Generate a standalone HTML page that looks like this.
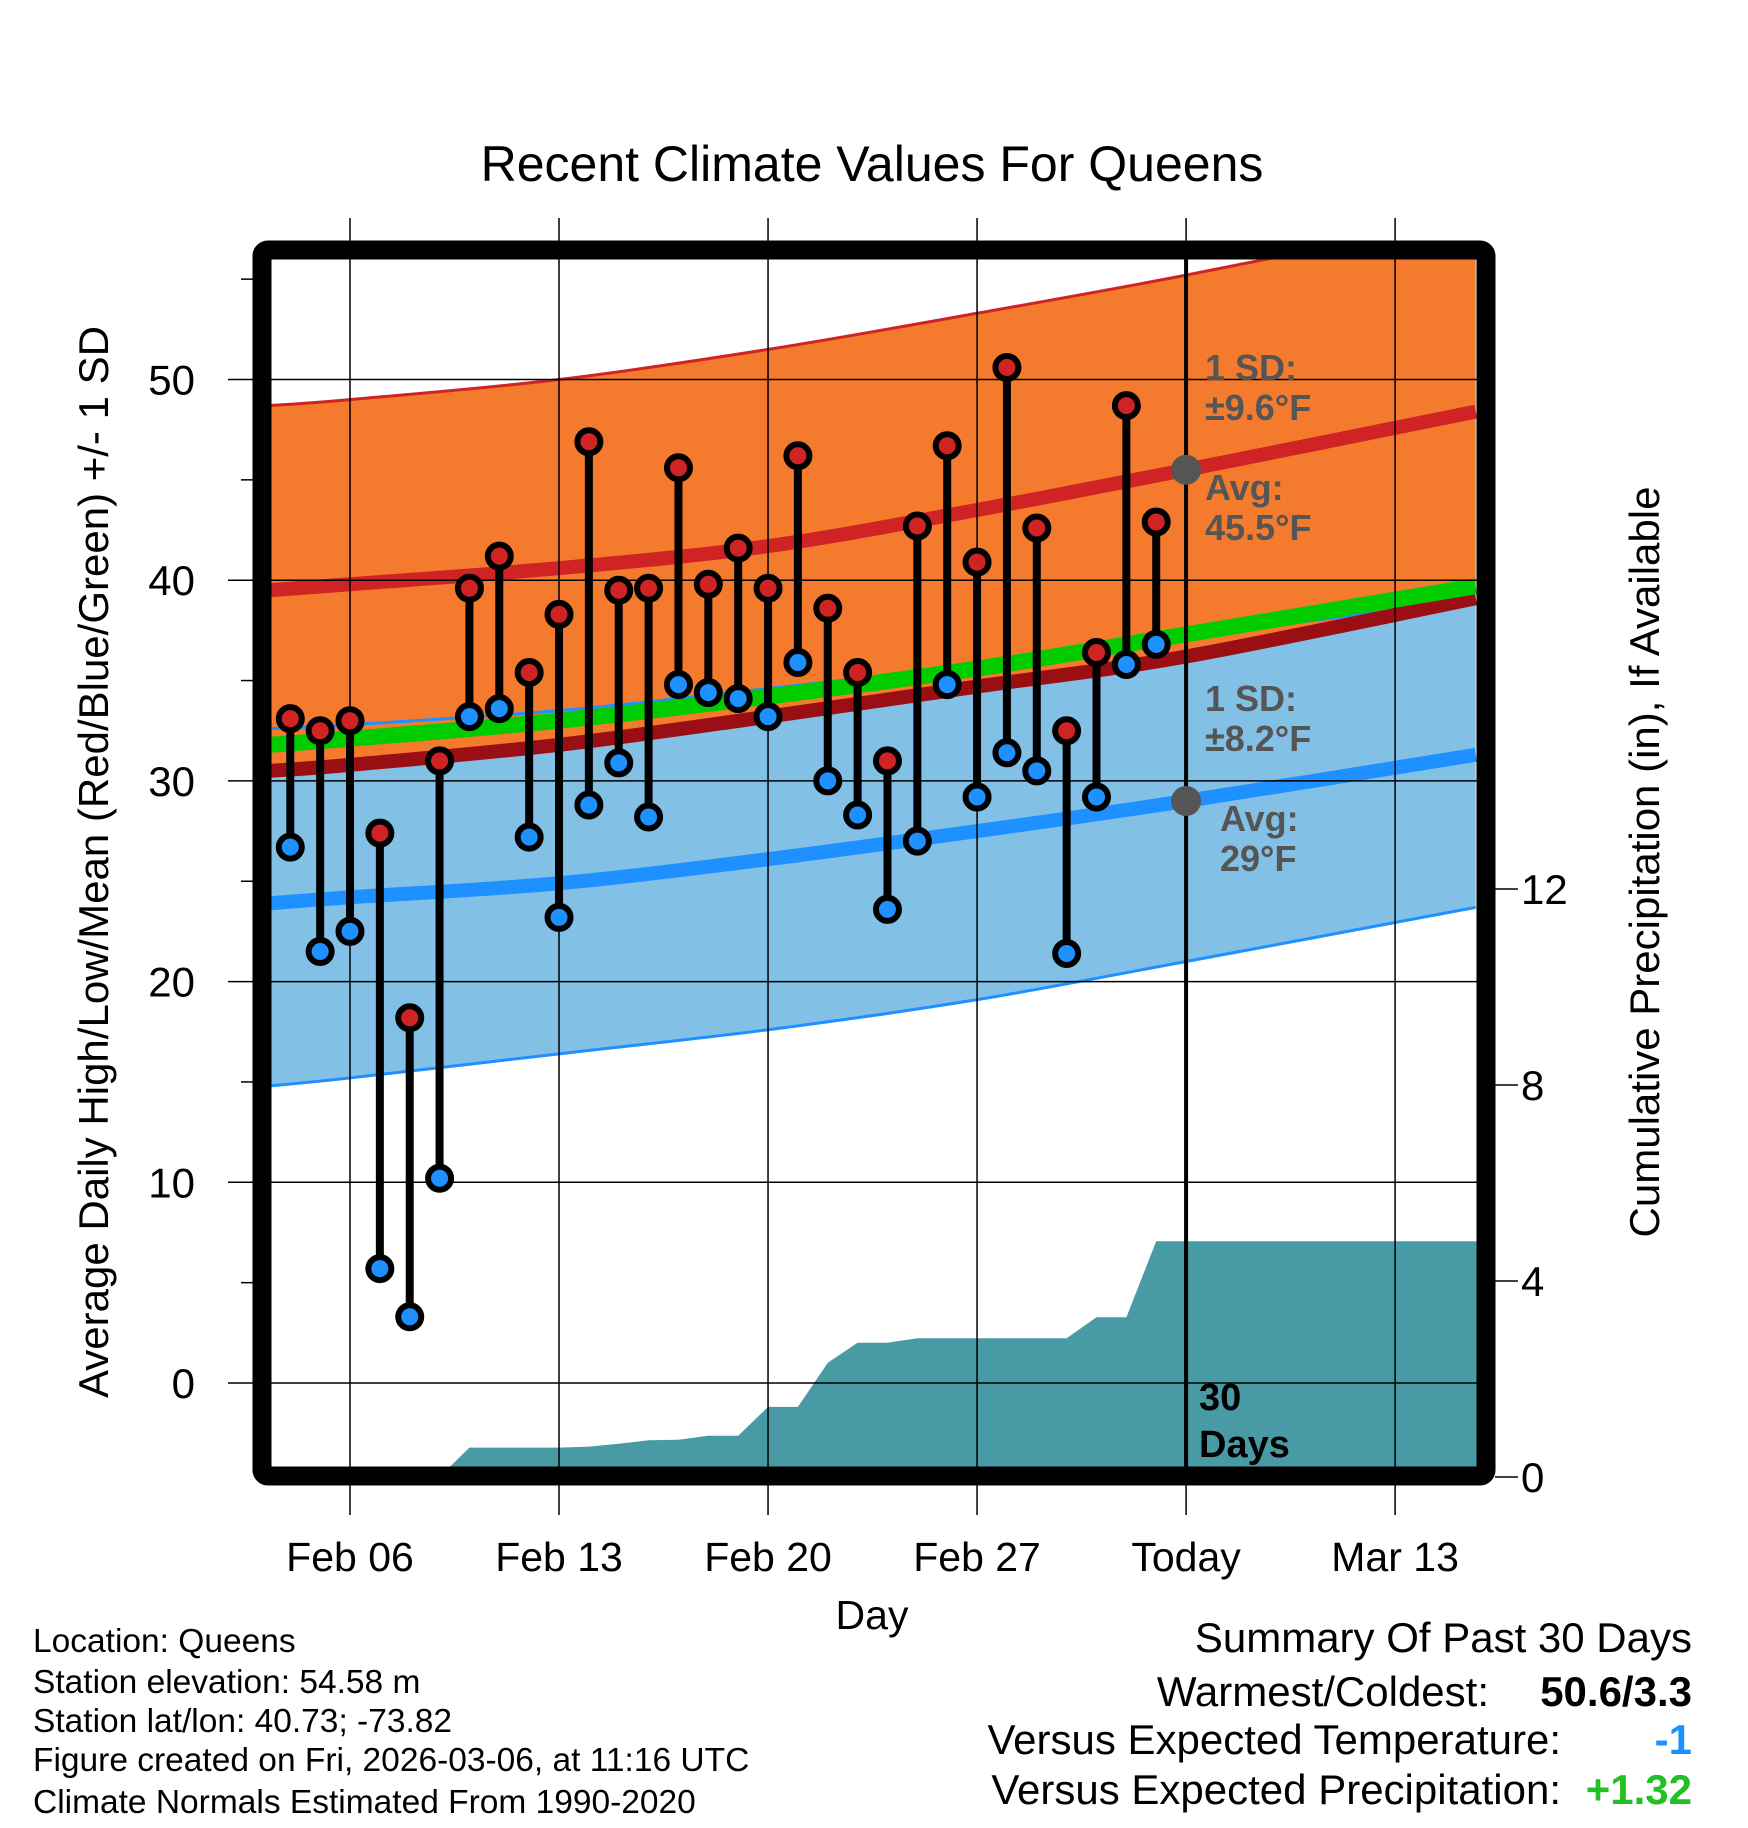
<!DOCTYPE html>
<html><head><meta charset="utf-8"><style>
html,body{margin:0;padding:0;background:#fff;}
svg{display:block;font-family:"Liberation Sans",sans-serif;}
</style></head><body>
<svg id="chart" width="1748" height="1828" viewBox="0 0 1748 1828" xmlns="http://www.w3.org/2000/svg">
<defs><clipPath id="plotclip"><rect x="269" y="259" width="1208" height="1208"/></clipPath></defs>
<g id="bands" clip-path="url(#plotclip)"></g>
<g id="grid"></g>
<g id="marks" clip-path="url(#plotclip)"></g>
<g id="axes"></g>
<text x="872" y="181" font-size="50" text-anchor="middle">Recent Climate Values For Queens</text>
<text transform="translate(108,862) rotate(-90)" font-size="42" text-anchor="middle">Average Daily High/Low/Mean (Red/Blue/Green) +/- 1 SD</text>
<text transform="translate(1659,862) rotate(-90)" font-size="42" text-anchor="middle">Cumulative Precipitation (in), If Available</text>
<text x="872" y="1629" font-size="41" text-anchor="middle">Day</text>
<g font-size="33.5">
<text x="33" y="1652">Location: Queens</text>
<text x="33" y="1693">Station elevation: 54.58 m</text>
<text x="33" y="1732">Station lat/lon: 40.73; -73.82</text>
<text x="33" y="1771">Figure created on Fri, 2026-03-06, at 11:16 UTC</text>
<text x="33" y="1813">Climate Normals Estimated From 1990-2020</text>
</g>
<g font-size="42" text-anchor="end">
<text x="1692" y="1652">Summary Of Past 30 Days</text>
<text x="1489" y="1706">Warmest/Coldest:</text>
<text x="1692" y="1706" font-weight="bold">50.6/3.3</text>
<text x="1561" y="1754">Versus Expected Temperature:</text>
<text x="1692" y="1754" font-weight="bold" fill="#1e90ff">-1</text>
<text x="1561" y="1804">Versus Expected Precipitation:</text>
<text x="1692" y="1804" font-weight="bold" fill="#22c022">+1.32</text>
</g>
</svg>
<script>
const days = [4,5,6,7,8,9,10,11,12,13,14,15,16,17,18,19,20,21,22,23,24,25,26,27,28,29,30,31,32,33];
const highs = [33.1,32.5,33.0,27.4,18.2,31.0,39.6,41.2,35.4,38.3,46.9,39.5,39.6,45.6,39.8,41.6,39.6,46.2,38.6,35.4,31.0,42.7,46.7,40.9,50.6,42.6,32.5,36.4,48.7,42.9];
const lows = [26.7,21.5,22.5,5.7,3.3,10.2,33.2,33.6,27.2,23.2,28.8,30.9,28.2,34.8,34.4,34.1,33.2,35.9,30.0,28.3,23.6,27.0,34.8,29.2,31.4,30.5,21.4,29.2,35.8,36.8];
const precip = [0,0,0,0,0,0,0.6,0.6,0.6,0.6,0.62,0.68,0.75,0.76,0.84,0.84,1.43,1.43,2.33,2.74,2.74,2.83,2.83,2.83,2.83,2.83,2.83,3.26,3.26,4.81];
const normDays = [3.3,6,13,20,27,34,43.7];
const highAvg = [39.5,39.8,40.6,41.7,43.5,45.5,48.4];
const highUpper = [48.7,49.0,50.0,51.5,53.3,55.2,58.1];
const highLower = [30.5,30.8,31.8,33.2,34.7,36.2,39.1];
const lowAvg = [23.9,24.2,24.9,26.1,27.5,29.0,31.3];
const lowUpper = [32.6,32.8,33.5,34.6,35.8,37.2,39.0];
const lowLower = [14.8,15.2,16.4,17.6,19.1,21.0,23.7];
const meanAvg = [31.8,32.1,33.0,34.2,35.6,37.3,39.7];
const yTicks = [0,10,20,30,40,50];
const pTicks = [0,4,8,12];
const xTickDays = [6,13,20,27,34,41];
const xTickLabels = ["Feb 06","Feb 13","Feb 20","Feb 27","Today","Mar 13"];

const X = d => 350 + (d-6)*29.86;
const Y = t => 1383 - t*20.07;
const YP = p => 1477 - p*49.0;
const NS = "http://www.w3.org/2000/svg";
function mk(tag, attrs, parent){const e=document.createElementNS(NS,tag);for(const k in attrs)e.setAttribute(k,attrs[k]);parent.appendChild(e);return e;}
function smoothPath(arr){const pts=normDays.map((d,i)=>[X(d),Y(arr[i])]);let s="M"+pts[0][0]+","+pts[0][1];for(let i=1;i<pts.length;i++){const p0=pts[Math.max(0,i-2)],p1=pts[i-1],p2=pts[i],p3=pts[Math.min(pts.length-1,i+1)];const c1=[p1[0]+(p2[0]-p0[0])/6,p1[1]+(p2[1]-p0[1])/6],c2=[p2[0]-(p3[0]-p1[0])/6,p2[1]-(p3[1]-p1[1])/6];s+=" C"+c1+" "+c2+" "+p2;}return s;}
function band(up,lo){const a=smoothPath(up);const rl=lo.slice().reverse();const rd=normDays.slice().reverse();const pts=rd.map((d,i)=>[X(d),Y(rl[i])]);return a+" L"+pts.map(p=>p.join(",")).join(" L")+" Z";}

const bands=document.getElementById('bands');
let e;
e=mk('path',{d:band(lowUpper,lowLower),fill:'#82c0e6'},bands);


e=mk('path',{d:band(highUpper,highLower),fill:'#f47a2e'},bands);


e=mk('path',{d:smoothPath(lowLower),fill:'none',stroke:'#1e90ff','stroke-width':3},bands);


e=mk('path',{d:smoothPath(highUpper),fill:'none',stroke:'#d02424','stroke-width':3},bands);


e=mk('path',{d:smoothPath(lowUpper),fill:'none',stroke:'#1e90ff','stroke-width':3},bands);


e=mk('path',{d:smoothPath(highLower),fill:'none',stroke:'#9a0e14','stroke-width':14},bands);


e=mk('path',{d:smoothPath(meanAvg),fill:'none',stroke:'#00cc00','stroke-width':16},bands);


e=mk('path',{d:smoothPath(highAvg),fill:'none',stroke:'#d02424','stroke-width':14},bands);


e=mk('path',{d:smoothPath(lowAvg),fill:'none',stroke:'#1e90ff','stroke-width':14},bands);


let pd="M"+X(days[0])+","+YP(0);
days.forEach((d,i)=>{pd+=" L"+X(d).toFixed(1)+","+YP(precip[i]).toFixed(1);});
pd+=" L1480,"+YP(precip[precip.length-1])+" L1480,1480 L"+X(days[0])+",1480 Z";
e=mk('path',{d:pd,fill:'#489aa5'},bands);



const grid=document.getElementById('grid');
xTickDays.forEach((d,i)=>{
 e=mk('line',{x1:X(d),x2:X(d),y1:218,y2:1515,stroke:'#000','stroke-width':1.5},grid);
 
 
 e=mk('text',{x:X(d),y:1571,'font-size':41,'text-anchor':'middle'},grid);
 e.textContent=xTickLabels[i];
 
 
});
yTicks.forEach(t=>{
 e=mk('line',{x1:228,x2:1478,y1:Y(t),y2:Y(t),stroke:'#000','stroke-width':1.5},grid);
 
 
 e=mk('text',{x:195,y:Y(t)+15,'font-size':42,'text-anchor':'end'},grid);
 e.textContent=t;
 
 
});
[5,15,25,35,45,55].forEach(t=>{
 mk('line',{x1:241,x2:254,y1:Y(t),y2:Y(t),stroke:'#000','stroke-width':1.5},grid);
});
pTicks.forEach(p=>{
 e=mk('line',{x1:1495,x2:1518,y1:YP(p),y2:YP(p),stroke:'#000','stroke-width':1.5},grid);
 
 
 e=mk('text',{x:1521,y:YP(p)+15,'font-size':42},grid);
 e.textContent=p;
 
 
});

const marks=document.getElementById('marks');
days.forEach((d,i)=>{
 e=mk('line',{x1:X(d),x2:X(d),y1:Y(highs[i]),y2:Y(lows[i]),stroke:'#000','stroke-width':8},marks);
 
 
});
days.forEach((d,i)=>{
 e=mk('circle',{cx:X(d),cy:Y(highs[i]),r:11.5,fill:'#d02424',stroke:'#000','stroke-width':6},marks);
 
 
 e=mk('circle',{cx:X(d),cy:Y(lows[i]),r:11.5,fill:'#1e90ff',stroke:'#000','stroke-width':6},marks);
 
 
});
e=mk('line',{x1:X(34),x2:X(34),y1:259,y2:1467,stroke:'#000','stroke-width':4},marks);


const tHigh=highAvg[5], tLow=lowAvg[5];
e=mk('circle',{cx:X(34),cy:Y(tHigh),r:15,fill:'#555'},marks);


e=mk('circle',{cx:X(34),cy:Y(tLow),r:15,fill:'#555'},marks);


const lbl=[["1 SD:",1205,380],["±9.6°F",1205,420],["Avg:",1205,500],["45.5°F",1205,540],["1 SD:",1205,711],["±8.2°F",1205,751],["Avg:",1220,831],["29°F",1220,871]];
lbl.forEach(l=>{e=mk('text',{x:l[1],y:l[2],'font-size':36,'font-weight':'bold',fill:'#555'},marks);e.textContent=l[0];

});
e=mk('text',{x:1199,y:1410,'font-size':38,'font-weight':'bold'},marks);e.textContent="30";


e=mk('text',{x:1199,y:1457,'font-size':38,'font-weight':'bold'},marks);e.textContent="Days";



const axes=document.getElementById('axes');
e=mk('rect',{x:262,y:250,width:1224,height:1226,rx:6,fill:'none',stroke:'#000','stroke-width':19},axes);


</script>
</body></html>
